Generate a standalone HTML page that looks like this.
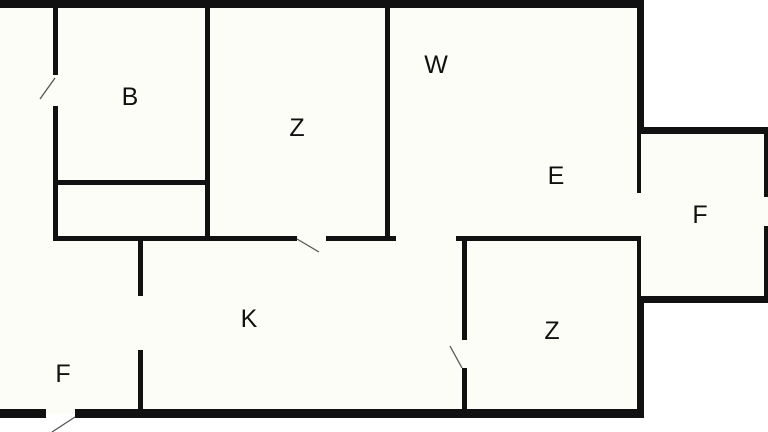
<!DOCTYPE html>
<html><head><meta charset="utf-8"><style>
html,body{margin:0;padding:0;background:#fff;}
svg{display:block;}
text{font-family:"Liberation Sans",sans-serif;font-size:25px;fill:#111;}
</style></head><body>
<svg width="768" height="432" viewBox="0 0 768 432" xmlns="http://www.w3.org/2000/svg">
<rect x="0" y="0" width="768" height="432" fill="#ffffff"/>
<polygon points="0,0 641,0 641,130 768,130 768,300 641,300 641,414 0,414" fill="#fcfdf6"/>
<g fill="#111">
<!-- exterior -->
<rect x="0" y="0" width="644" height="8"/>
<rect x="637" y="0" width="7" height="133"/>
<rect x="637" y="127" width="131" height="7"/>
<rect x="764" y="127" width="4" height="70"/>
<rect x="764" y="226" width="4" height="77"/>
<rect x="637" y="296" width="131" height="7"/>
<rect x="637" y="296" width="7" height="122"/>
<rect x="0" y="409" width="46" height="9"/>
<rect x="75" y="409" width="569" height="9"/>
<!-- interior -->
<rect x="637" y="133" width="4" height="60"/>
<rect x="637" y="236" width="4" height="62"/>
<rect x="53" y="8" width="5" height="67"/>
<rect x="53" y="106" width="5" height="135"/>
<rect x="55" y="180" width="153" height="5"/>
<rect x="205" y="8" width="5" height="233"/>
<rect x="385" y="8" width="5" height="233"/>
<rect x="53" y="236" width="244" height="5"/>
<rect x="326" y="236" width="70" height="5"/>
<rect x="138" y="238" width="5" height="58"/>
<rect x="138" y="350" width="5" height="62"/>
<rect x="456" y="236" width="185" height="5"/>
<rect x="462" y="238" width="5" height="102"/>
<rect x="462" y="368" width="5" height="44"/>
</g>
<g stroke="#555" stroke-width="1.3" fill="none">
<line x1="55" y1="78" x2="40" y2="99"/>
<line x1="297" y1="239" x2="319" y2="252"/>
<line x1="462" y1="368" x2="450" y2="346"/>
<line x1="75" y1="417" x2="52" y2="432"/>
</g>
<text x="130" y="105" text-anchor="middle">B</text>
<text x="297" y="136" text-anchor="middle">Z</text>
<text x="436" y="73" text-anchor="middle">W</text>
<text x="556" y="184" text-anchor="middle">E</text>
<text x="700" y="223" text-anchor="middle">F</text>
<text x="552" y="339" text-anchor="middle">Z</text>
<text x="249" y="327" text-anchor="middle">K</text>
<text x="63" y="382" text-anchor="middle">F</text>
</svg>
</body></html>
